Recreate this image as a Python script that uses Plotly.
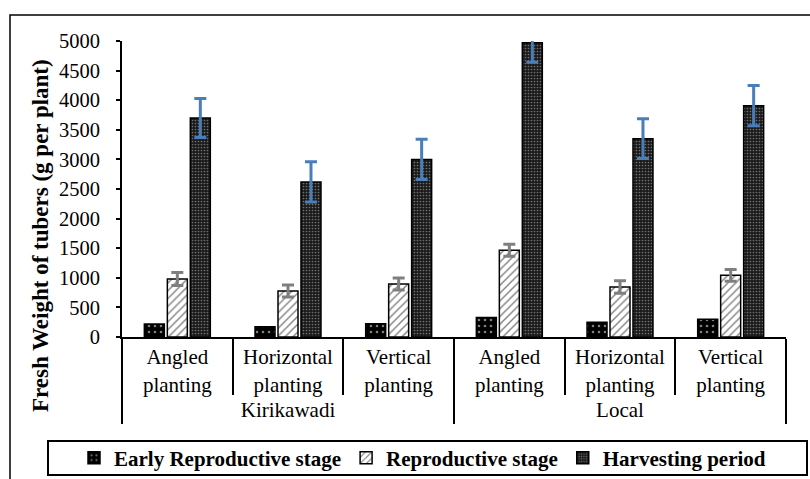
import plotly.graph_objects as go

# ---- data ----
varieties = ["Kirikawadi"] * 3 + ["Local"] * 3
methods = ["Angled<br>planting", "Horizontal<br>planting", "Vertical<br>planting"] * 2
series_names = ["Early Reproductive stage", "Reproductive stage", "Harvesting period"]
early = [220, 175, 225, 330, 248, 299]
repro = [980, 777, 895, 1465, 845, 1042]
repro_err = [110, 100, 100, 100, 105, 100]
harvest = [3700, 2620, 3000, 4970, 3350, 3907]
harvest_err = [330, 340, 340, 330, 335, 340]
y_ticks = list(range(0, 5001, 500))

FONT = "Liberation Serif, Times New Roman, serif"
x = [varieties, methods]

L, R, T, B = 122, 24, 41, 142
PW, PH = 810 - L - R, 479 - T - B


def px(xp):
    return (xp - L) / PW


def py(yp):
    return (479 - B - yp) / PH


fig = go.Figure()
fig.add_trace(go.Bar(
    name=series_names[0], x=x, y=early,
    marker=dict(color="black", line=dict(color="black", width=1.5),
                pattern=dict(shape=".", bgcolor="black", fgcolor="white",
                             size=6, solidity=0.15)),
))
fig.add_trace(go.Bar(
    name=series_names[1], x=x, y=repro,
    marker=dict(color="white", line=dict(color="black", width=1.5),
                pattern=dict(shape="/", bgcolor="white", fgcolor="black",
                             size=5.5, solidity=0.25)),
    error_y=dict(type="data", array=repro_err, color="#7f7f7f",
                 thickness=3, width=6),
))
fig.add_trace(go.Bar(
    name=series_names[2], x=x, y=harvest,
    marker=dict(color="#333333", line=dict(color="black", width=1.5),
                pattern=dict(shape=".", bgcolor="#1a1a1a", fgcolor="#c8c8c8",
                             size=3, solidity=0.25)),
    error_y=dict(type="data", array=harvest_err, color="#4a7ebb",
                 thickness=3, width=6),
))

fig.update_layout(
    width=810, height=479,
    margin=dict(l=L, r=R, t=T, b=B, autoexpand=False),
    paper_bgcolor="white", plot_bgcolor="white",
    barmode="group", bargap=0.377, bargroupgap=0.13,
    font=dict(family=FONT, color="black", size=21),
    showlegend=True,
    legend=dict(orientation="h", x=px(74), xanchor="left", y=py(458), yanchor="middle",
                font=dict(family=FONT, size=21, color="black", weight="bold"),
                borderwidth=0, bgcolor="rgba(0,0,0,0)",
                traceorder="normal"),
    xaxis=dict(
        type="multicategory", showline=True, linecolor="black", linewidth=2,
        ticks="outside", tickson="boundaries", ticklen=56, tickwidth=2, tickcolor="black",
        showdividers=True, dividercolor="black", dividerwidth=2,
        tickfont=dict(family=FONT, size=21, color="black"),
        showgrid=False, automargin=False,
    ),
    yaxis=dict(
        range=[0, 5000], tickvals=y_ticks, showline=True, linecolor="black", linewidth=2,
        ticks="outside", ticklen=4, tickwidth=2, tickcolor="black",
        tickfont=dict(family=FONT, size=20.5, color="black"),
        showgrid=False, zeroline=False, ticklabelstandoff=12, automargin=False,
    ),
    annotations=[dict(
        text="<b>Fresh Weight of tubers (g per plant)</b>", textangle=-90,
        xref="paper", yref="paper", x=px(40), y=py(236), xanchor="center", yanchor="middle",
        showarrow=False, font=dict(family=FONT, size=23, color="black"),
    )],
    shapes=[
        # outer chart frame
        dict(type="rect", xref="paper", yref="paper",
             x0=px(10), x1=px(830), y0=py(500), y1=py(15),
             line=dict(color="black", width=1.5), fillcolor="rgba(0,0,0,0)"),
        # legend frame
        dict(type="rect", xref="paper", yref="paper",
             x0=px(48), x1=px(807), y0=py(475), y1=py(441),
             line=dict(color="black", width=2), fillcolor="rgba(0,0,0,0)"),
    ],
)

fig.write_html("out.html",
               config={"displayModeBar": False},
               post_script="document.body.style.margin='0px';document.body.style.overflow='hidden';")
